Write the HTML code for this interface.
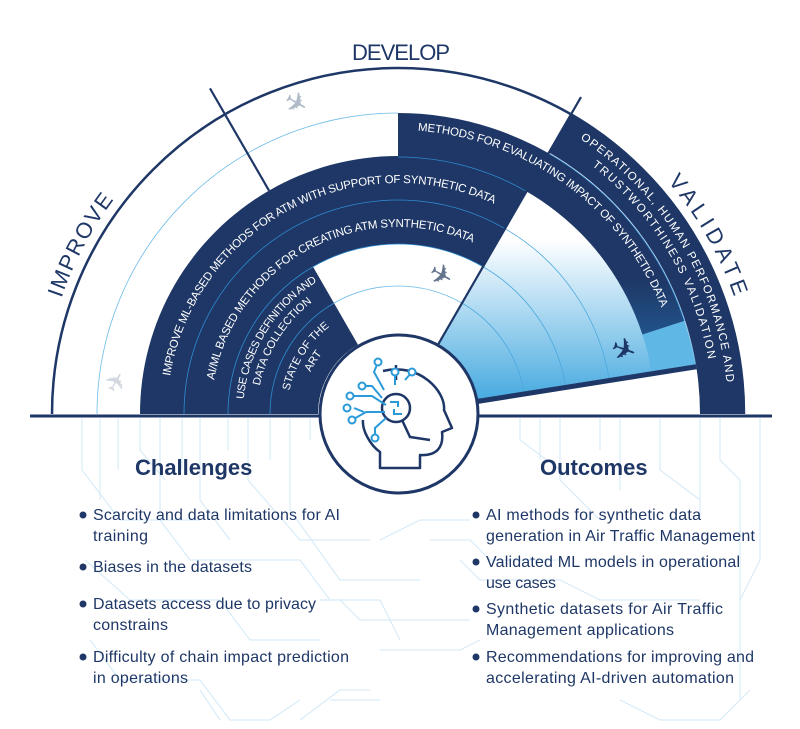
<!DOCTYPE html>
<html><head><meta charset="utf-8"><style>
html,body{margin:0;padding:0;background:#fff;}
svg{display:block;}
text{font-family:"Liberation Sans Narrow","Liberation Sans",sans-serif;}
</style></head><body>
<svg id="s" width="800" height="729" viewBox="0 0 800 729" xmlns="http://www.w3.org/2000/svg">
<defs>
<linearGradient id="wg" x1="0" y1="0" x2="0" y2="1" gradientUnits="objectBoundingBox">
<stop offset="0" stop-color="#ffffff"/><stop offset="0.35" stop-color="#ffffff"/><stop offset="1" stop-color="#45a9e0"/></linearGradient>
<linearGradient id="mg" x1="0" y1="0" x2="0" y2="1">
<stop offset="0" stop-color="#1e3766"/><stop offset="0.75" stop-color="#1e3766"/><stop offset="1" stop-color="#21538a"/></linearGradient>
</defs>
<g id="circuits" stroke="#d9ecf8" stroke-width="1.2" fill="none"></g>
<g id="rings"></g>
<g id="labels"></g>
<g id="hub"></g>
<g id="lists"></g>
</svg>
<script>
const NS="http://www.w3.org/2000/svg";
const cx=398, cy=414;
const s=document.getElementById('s');
function P(r,a){const t=a*Math.PI/180;return [cx+r*Math.cos(t), cy-r*Math.sin(t)];}
function sector(r1,r2,a1,a2){
  const p1=P(r2,a2),p2=P(r2,a1),p3=P(r1,a1),p4=P(r1,a2);
  const lg=(a2-a1)>180?1:0;
  return `M${p1} A${r2},${r2} 0 ${lg} 1 ${p2} L${p3} A${r1},${r1} 0 ${lg} 0 ${p4} Z`;
}
function arc(r,a1,a2){
  const p1=P(r,a1),p2=P(r,a2);const lg=Math.abs(a1-a2)>180?1:0;
  return `M${p1} A${r},${r} 0 ${lg} 1 ${p2}`;
}
function el(tag,attrs,parent){const e=document.createElementNS(NS,tag);for(const k in attrs)e.setAttribute(k,attrs[k]);(parent||s).appendChild(e);return e;}
const rings=document.getElementById('rings');

const circ=document.getElementById('circuits');
const cl=[
"M82 418 V470 L120 520 H200","M100 418 V500","M118 418 V470","M140 418 V450 L165 480","M160 418 V520 L190 560 H300 L330 600","M182 418 V470","M200 418 V500 L230 540",
"M228 418 V450","M248 418 V480 L300 540 H370","M270 418 V460","M290 418 V510 L340 580 H420","M310 418 V440",
"M85 560 L130 600 H220 L250 640 H320","M90 640 L120 680 H200 L230 720 H270 L300 700","M200 690 L220 720","M320 600 H380 L400 640","M300 720 L340 690 H370",
"M520 418 V440 L560 470","M540 418 V460","M560 418 V480 L600 520","M600 418 V450","M620 418 V490","M660 418 V470 L700 500","M700 418 V520","M720 418 V460 L740 480 V600",
"M760 418 V560 L740 600 V700","M430 540 H470 L490 560 H560","M380 540 L420 520 H470","M320 600 H340 L360 620 H470","M380 650 H460 L480 640","M330 700 H380","M620 700 L660 720 H720 L750 690","M460 560 L480 580 H560 L600 600 H700"];
cl.forEach(d=>{const e=el('path',{d},circ);

});

const base=el('line',{x1:30,y1:416,x2:772,y2:416,stroke:'#1e3766','stroke-width':3},rings);



const w=el('path',{d:sector(80,302,9,60),fill:'url(#wg)'},rings);


[128,170,214,258].forEach(r=>{const e=el('path',{d:arc(r,60,9),stroke:'#4aa8dd','stroke-width':0.8,fill:'none'},rings);

});

const bands=[
 {n:'band-improve-ml',r1:214,r2:258,a1:60,a2:180,f:'#1e3766'},
 {n:'band-aiml-creating',r1:170,r2:214,a1:60,a2:180,f:'#1e3766'},
 {n:'band-use-cases',r1:128,r2:170,a1:120,a2:180,f:'#1e3766'},
 {n:'band-state-of-art',r1:80,r2:128,a1:120,a2:180,f:'#1e3766'},
 {n:'band-methods-evaluating',r1:257,r2:301,a1:18,a2:90,f:'url(#mg)'},
 {n:'band-operational-validation',r1:302,r2:346,a1:0,a2:60,f:'#1e3766'}];
bands.forEach(b=>{const e=el('path',{d:sector(b.r1,b.r2,b.a1,b.a2),fill:b.f},rings);

});
el('path',{d:sector(257,301,9,18),fill:'#5fb7e6'},rings);
[[214,60,180],[170,60,180],[128,120,180],[257,60,90]].forEach(([r,a,b])=>{el('path',{d:arc(r,b,a),stroke:'#2f8bd0','stroke-width':0.8,fill:'none'},rings);});
el('path',{d:arc(128,120,60),stroke:'#6dbbe8','stroke-width':0.8,fill:'none'},rings);
el('path',{d:arc(301,180,90),stroke:'#6dbbe8','stroke-width':0.8,fill:'none'},rings);
el('path',{d:arc(301,60,18),stroke:'#2f8bd0','stroke-width':0.8,fill:'none'},rings);
const oa=el('path',{d:arc(346,180,0),stroke:'#1e3766','stroke-width':2.5,fill:'none'},rings);


[[120,258,376],[60,80,366]].forEach(([a,r1,r2])=>{const p=P(r1,a),q=P(r2,a);const e=el('line',{x1:p[0],y1:p[1],x2:q[0],y2:q[1],stroke:'#1e3766','stroke-width':2.2},rings);

});
{const p=P(80,9),q=P(302,9);el('line',{x1:p[0],y1:p[1],x2:q[0],y2:q[1],stroke:'#1e3766','stroke-width':5},rings);}

[[295,105,'#b0bac8',30,28],[118,383,'#d2d8e0',-60,26],[440,277,'#65748d',30,28],[623,352,'#1e3766',20,30]].forEach(([x,y,c,rot,fs])=>{
const t=el('text',{x,y,fill:c,'font-size':fs,'text-anchor':'middle','dominant-baseline':'middle',transform:`rotate(${rot} ${x} ${y})`,'font-family':'DejaVu Sans'},rings);t.textContent='✈';

});

const labels=document.getElementById('labels');
let pid=0;
function curved(txt,r,a1,a2,fs,col,name,len){
 const id='tp'+(pid++);
 el('path',{id,d:arc(r,a1,a2),fill:'none'},labels);
 const t=el('text',{'font-size':fs,fill:col},labels);
 
 
 const tp=el('textPath',{href:'#'+id,startOffset:'50%','text-anchor':'middle'},t);
 if(len)tp.setAttribute('textLength',len);
 tp.textContent=txt;
}
function L(r,a1,a2){return r*Math.abs(a1-a2)*Math.PI/180;}
curved('IMPROVE ML-BASED METHODS FOR ATM WITH SUPPORT OF SYNTHETIC DATA',231,174,62,11.5,'#fff','label-improve-ml',L(231,171,66));
curved('AI/ML BASED METHODS FOR CREATING ATM SYNTHETIC DATA',187,174,62,11.5,'#fff','label-aiml-creating',L(187,171,68));
curved('USE CASES DEFINITION AND',155,178,118,11,'#fff','label-use-cases-1',L(155,175,122));
curved('DATA COLLECTION',141,178,118,11,'#fff','label-use-cases-2');
curved('STATE OF THE',111,178,118,11,'#fff','label-state-of-art-1');
curved('ART',97,178,118,11,'#fff','label-state-of-art-2');
curved('METHODS FOR EVALUATING IMPACT OF SYNTHETIC DATA',284,88,20,11.5,'#fff','label-methods-evaluating',L(284,87,23));
curved('OPERATIONAL, HUMAN PERFORMANCE AND',330,60,2,11.5,'#fff','label-operational-1',L(330,56,5));
curved('TRUSTWORTHINESS  VALIDATION',315,60,2,11.5,'#fff','label-operational-2',L(315,50,8));
curved('IMPROVE',356,177,127,22,'#1e3766','improve-phase-label',112);
curved('VALIDATE',356,58,2,22,'#1e3766','validate-phase-label',134);
{const t=el('text',{x:401,y:60,'font-size':22,fill:'#1e3766','text-anchor':'middle',textLength:98},labels);t.textContent='DEVELOP';

}

const hub=document.getElementById('hub');
el('circle',{cx:399,cy:414,r:79,fill:'#fff',stroke:'#1e3766','stroke-width':3},hub);
el('path',{d:'M383 371 C420 362 446 392 444 410 L452 428 L442 432 C444 448 436 456 420 455 L420 468 L380 468 L380 452 C370 445 362 430 363 420',fill:'none',stroke:'#1e3766','stroke-width':2.5,'stroke-linejoin':'round'},hub);
el('path',{d:'M396 365 V380',stroke:'#1e3766','stroke-width':2.5},hub);
el('circle',{cx:396,cy:408,r:14,fill:'#fff',stroke:'#1e3766','stroke-width':2.5},hub);
el('path',{d:'M402 420 L410 437 L430 440',fill:'none',stroke:'#1e3766','stroke-width':2.5},hub);
el('path',{d:'M390 402 H398 V407 M402 414 H394 V409',fill:'none',stroke:'#2b9ad8','stroke-width':2},hub);
[['M386 405 L372 396 L350 396',350,396],['M382 398 L372 386 L362 386',362,386],['M385 412 H366 L352 420',352,420],['M386 418 L375 428 L375 438',375,438],['M384 390 L374 372 L378 362',378,362],['M395 385 L395 372',395,372],['M405 380 L412 372',412,372],['M364 412 L354 408',347,408]].forEach(([d,x,y])=>{
el('path',{d,fill:'none',stroke:'#2b9ad8','stroke-width':2},hub);el('circle',{cx:x,cy:y,r:3.5,fill:'#fff',stroke:'#2b9ad8','stroke-width':2},hub);});

const lists=document.getElementById('lists');
function heading(txt,x,name){const t=el('text',{x,y:475,'font-size':22,'font-weight':'bold',fill:'#1e3766'},lists);t.textContent=txt;

}
heading('Challenges',135,'challenges-heading');
heading('Outcomes',540,'outcomes-heading');
function items(x,arr,name){arr.forEach(([lines,y])=>{
 el('circle',{cx:x-10,cy:y-5,r:3.5,fill:'#1e3766'},lists);
 lines.forEach(([l,len],i)=>{const t=el('text',{x,y:y+i*21,'font-size':16,fill:'#1e3766'},lists);if(len)t.setAttribute('textLength',len);t.textContent=l;
 
 });});}
items(93,[
 [[['Scarcity and data limitations for AI',247],['training',55]],520],
 [[['Biases in the datasets',159]],572],
 [[['Datasets access due to privacy',223],['constrains',75]],609],
 [[['Difficulty of chain impact prediction',256],['in operations',95]],662]],'challenge-item');
items(486,[
 [[['AI methods for synthetic data',215],['generation in Air Traffic Management',269]],520],
 [[['Validated ML models in operational',254],['use cases',70]],567],
 [[['Synthetic datasets for  Air Traffic',237],['Management applications',188]],614],
 [[['Recommendations for improving and',268],['accelerating AI-driven automation',248]],662]],'outcome-item');
</script>
</body></html>
